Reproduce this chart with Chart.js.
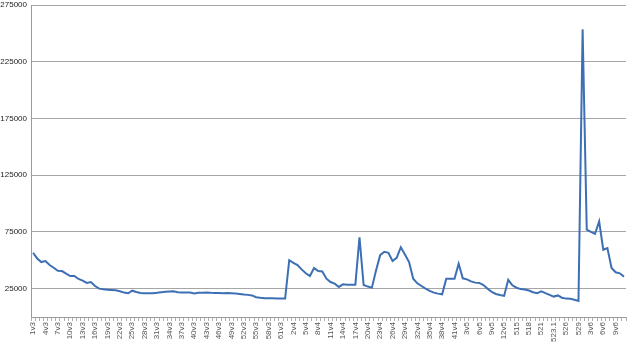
<!DOCTYPE html>
<html>
<head>
<meta charset="utf-8">
<script src="https://cdn.jsdelivr.net/npm/chart.js@4"></script>
<style>
html,body{margin:0;padding:0;background:#fff;}
#wrap{width:640px;height:344px;position:relative;}
</style>
</head>
<body>
<div id="wrap"><canvas id="c" width="640" height="344"></canvas></div>
<script>
const categories = [
"1v3","2v3","3v3","4v3","5v3","6v3","7v3","8v3","9v3","10v3","11v3","12v3","13v3","14v3","15v3","16v3","17v3","18v3","19v3","20v3",
"21v3","22v3","23v3","24v3","25v3","26v3","27v3","28v3","29v3","30v3","31v3","32v3","33v3","34v3","35v3","36v3","37v3","38v3","39v3","40v3",
"41v3","42v3","43v3","44v3","45v3","46v3","47v3","48v3","49v3","50v3","51v3","52v3","53v3","54v3","55v3","56v3","57v3","58v3","59v3","60v3",
"61v3","62v3",
"1v4","2v4","3v4","4v4","5v4","6v4","7v4","8v4","9v4","10v4","11v4","12v4","13v4","14v4","15v4","16v4","17v4","18v4","19v4","20v4",
"21v4","22v4","23v4","24v4","25v4","26v4","27v4","28v4","29v4","30v4","31v4","32v4","33v4","34v4","35v4","36v4","37v4","38v4","39v4","40v4","41v4",
"1v5","2v5","3v5","4v5","5v5","6v5","7v5","8v5","9v5","10v5","11v5","12v5","13v5","14v5",
"515","516","517","518","519","520","521","522","523","523.1","524","525","526","527","528","529",
"1v6","2v6","3v6","4v6","5v6","6v6","7v6","8v6","9v6","10v6","11v6"
];
const values = [
56600,51600,48400,49300,45800,43400,40800,40500,38200,36100,
36100,33500,32000,30000,30800,27300,25000,24400,24100,23800,
23500,22700,21500,20900,23200,22100,21200,20900,20900,20900,
21300,21900,22200,22500,22600,21800,21500,21700,21600,20800,
21300,21300,21500,21300,21200,21200,21000,21200,21000,20700,
20300,19800,19500,19000,17400,16900,16500,16500,16500,16200,
16200,16200,50100,47800,45800,42000,38500,36100,43100,40500,
40200,33800,30800,29400,26500,28800,28500,28500,28500,70300,
28200,26800,25900,41000,54500,57500,56600,49300,52200,61500,
55100,48400,33800,29700,27300,25000,23000,21500,20600,20000,
33800,33800,33800,46900,34100,33200,31400,30300,30000,28200,
25000,22100,20300,19400,18600,32800,28000,25800,24600,24200,
23300,21800,21000,22700,21000,19500,18000,19000,17000,16200,
16000,15200,14200,253500,76900,75000,73200,84300,59300,60800,
43200,39400,38500,35600
];
const yTicks = [25000,75000,125000,175000,225000,275000];
const labelEvery = 3;

new Chart(document.getElementById('c'), {
  type: 'line',
  data: {
    labels: categories,
    datasets: [{
      data: values,
      borderColor: '#3d6fb4',
      borderWidth: 2,
      pointRadius: 0,
      tension: 0,
      fill: false
    }]
  },
  options: {
    responsive: false,
    animation: false,
    plugins: { legend: { display: false }, tooltip: { enabled: false } },
    layout: { padding: { top: 5, right: 14, left: 0, bottom: 0 } },
    scales: {
      x: {
        offset: true,
        grid: { offset: true, drawOnChartArea: false, drawTicks: true, tickLength: 4, color: '#b0b0b0' },
        border: { color: '#9a9a9a' },
        afterFit: s => { s.height = 27; s.paddingLeft = 0; s.paddingRight = 0; },
        ticks: {
          autoSkip: false,
          maxRotation: 90,
          minRotation: 90,
          padding: 1,
          color: '#555',
          font: { family: 'Liberation Sans', size: 8 },
          callback: function(v, i) { return i % labelEvery === 0 ? categories[i] : ''; }
        }
      },
      y: {
        min: 0,
        max: 275000,
        afterBuildTicks: s => { s.ticks = yTicks.map(v => ({ value: v })); },
        afterFit: s => { s.width = 31; s.paddingTop = 0; s.paddingBottom = 0; },
        grid: { color: '#a6a6a6', drawTicks: false },
        border: { color: '#9a9a9a' },
        ticks: {
          padding: 4,
          color: '#222',
          font: { family: 'Liberation Sans', size: 8 },
          callback: v => String(v)
        }
      }
    }
  }
});
</script>
</body>
</html>
